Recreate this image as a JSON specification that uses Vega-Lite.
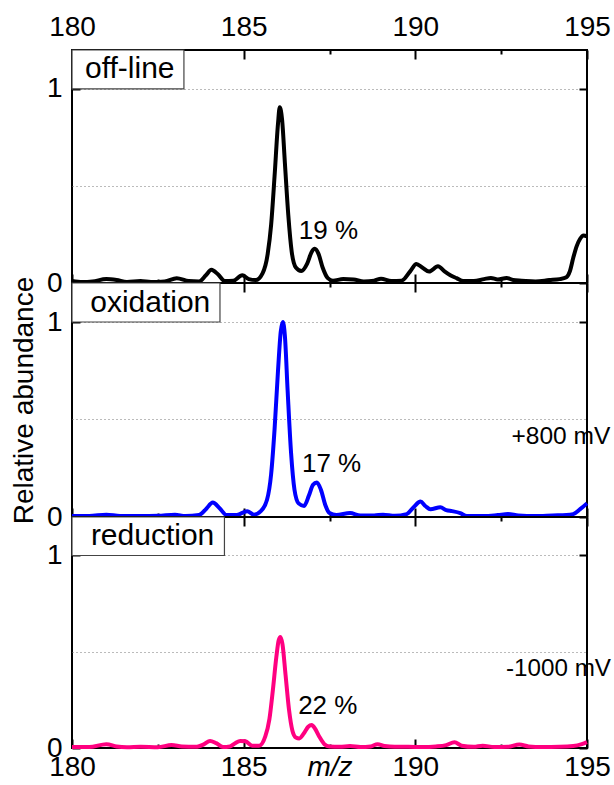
{
  "$schema": "https://vega.github.io/schema/vega-lite/v6.json",
  "padding": {"left": 8, "top": 7, "right": 0, "bottom": 0},
  "background": "white",
  "config": {
    "font": "Liberation Sans",
    "view": {"stroke": "black", "strokeWidth": 2},
    "axis": {"labelColor": "black", "labelFont": "Liberation Sans", "titleFont": "Liberation Sans", "titleColor": "black", "tickColor": "black", "tickWidth": 2, "labelOverlap": false, "labelFlush": false, "labelBound": false, "zindex": 1}
  },
  "datasets": {
    "c": [
      {"s":"off","x":180.0,"y":0.01},{"s":"off","x":180.3,"y":0.005},{"s":"off","x":180.6,"y":0.008},{"s":"off","x":181.0,"y":0.02},{"s":"off","x":181.3,"y":0.015},{"s":"off","x":181.6,"y":0.005},{"s":"off","x":182.0,"y":0.01},{"s":"off","x":182.3,"y":0.005},{"s":"off","x":182.7,"y":0.008},{"s":"off","x":183.05,"y":0.025},{"s":"off","x":183.4,"y":0.01},{"s":"off","x":183.7,"y":0.008},{"s":"off","x":183.9,"y":0.04},{"s":"off","x":184.06,"y":0.068},{"s":"off","x":184.25,"y":0.045},{"s":"off","x":184.45,"y":0.01},{"s":"off","x":184.7,"y":0.012},{"s":"off","x":184.96,"y":0.04},{"s":"off","x":185.15,"y":0.02},{"s":"off","x":185.35,"y":0.015},{"s":"off","x":185.55,"y":0.05},{"s":"off","x":185.7,"y":0.15},{"s":"off","x":185.8,"y":0.3},{"s":"off","x":185.9,"y":0.55},{"s":"off","x":186.0,"y":0.82},{"s":"off","x":186.05,"y":0.905},{"s":"off","x":186.12,"y":0.84},{"s":"off","x":186.2,"y":0.62},{"s":"off","x":186.3,"y":0.35},{"s":"off","x":186.4,"y":0.16},{"s":"off","x":186.52,"y":0.08},{"s":"off","x":186.68,"y":0.062},{"s":"off","x":186.85,"y":0.1},{"s":"off","x":186.98,"y":0.16},{"s":"off","x":187.07,"y":0.176},{"s":"off","x":187.18,"y":0.15},{"s":"off","x":187.3,"y":0.08},{"s":"off","x":187.45,"y":0.025},{"s":"off","x":187.6,"y":0.012},{"s":"off","x":187.9,"y":0.02},{"s":"off","x":188.2,"y":0.018},{"s":"off","x":188.5,"y":0.008},{"s":"off","x":188.8,"y":0.012},{"s":"off","x":189.0,"y":0.022},{"s":"off","x":189.3,"y":0.01},{"s":"off","x":189.6,"y":0.012},{"s":"off","x":189.85,"y":0.06},{"s":"off","x":190.03,"y":0.098},{"s":"off","x":190.2,"y":0.08},{"s":"off","x":190.4,"y":0.059},{"s":"off","x":190.66,"y":0.086},{"s":"off","x":190.85,"y":0.06},{"s":"off","x":191.02,"y":0.04},{"s":"off","x":191.2,"y":0.025},{"s":"off","x":191.4,"y":0.01},{"s":"off","x":191.7,"y":0.01},{"s":"off","x":192.0,"y":0.02},{"s":"off","x":192.2,"y":0.026},{"s":"off","x":192.4,"y":0.018},{"s":"off","x":192.66,"y":0.026},{"s":"off","x":192.85,"y":0.015},{"s":"off","x":193.1,"y":0.012},{"s":"off","x":193.5,"y":0.008},{"s":"off","x":193.9,"y":0.015},{"s":"off","x":194.2,"y":0.02},{"s":"off","x":194.4,"y":0.03},{"s":"off","x":194.5,"y":0.06},{"s":"off","x":194.6,"y":0.13},{"s":"off","x":194.7,"y":0.19},{"s":"off","x":194.8,"y":0.228},{"s":"off","x":194.9,"y":0.245},{"s":"off","x":195.0,"y":0.24},

      {"s":"ox","x":180.0,"y":0.005},{"s":"ox","x":180.5,"y":0.005},{"s":"ox","x":181.0,"y":0.012},{"s":"ox","x":181.4,"y":0.005},{"s":"ox","x":182.0,"y":0.005},{"s":"ox","x":182.5,"y":0.006},{"s":"ox","x":183.0,"y":0.012},{"s":"ox","x":183.3,"y":0.005},{"s":"ox","x":183.7,"y":0.01},{"s":"ox","x":183.9,"y":0.04},{"s":"ox","x":184.1,"y":0.074},{"s":"ox","x":184.3,"y":0.045},{"s":"ox","x":184.5,"y":0.01},{"s":"ox","x":184.8,"y":0.01},{"s":"ox","x":185.1,"y":0.03},{"s":"ox","x":185.3,"y":0.012},{"s":"ox","x":185.5,"y":0.03},{"s":"ox","x":185.68,"y":0.088},{"s":"ox","x":185.8,"y":0.22},{"s":"ox","x":185.9,"y":0.45},{"s":"ox","x":186.0,"y":0.75},{"s":"ox","x":186.08,"y":0.95},{"s":"ox","x":186.14,"y":1.0},{"s":"ox","x":186.2,"y":0.93},{"s":"ox","x":186.28,"y":0.65},{"s":"ox","x":186.38,"y":0.33},{"s":"ox","x":186.48,"y":0.14},{"s":"ox","x":186.6,"y":0.07},{"s":"ox","x":186.76,"y":0.057},{"s":"ox","x":186.9,"y":0.11},{"s":"ox","x":187.02,"y":0.165},{"s":"ox","x":187.13,"y":0.177},{"s":"ox","x":187.25,"y":0.14},{"s":"ox","x":187.38,"y":0.06},{"s":"ox","x":187.5,"y":0.02},{"s":"ox","x":187.7,"y":0.01},{"s":"ox","x":188.1,"y":0.02},{"s":"ox","x":188.4,"y":0.008},{"s":"ox","x":188.8,"y":0.008},{"s":"ox","x":189.06,"y":0.012},{"s":"ox","x":189.4,"y":0.006},{"s":"ox","x":189.75,"y":0.015},{"s":"ox","x":189.95,"y":0.05},{"s":"ox","x":190.15,"y":0.079},{"s":"ox","x":190.3,"y":0.055},{"s":"ox","x":190.44,"y":0.04},{"s":"ox","x":190.73,"y":0.05},{"s":"ox","x":190.9,"y":0.035},{"s":"ox","x":191.07,"y":0.03},{"s":"ox","x":191.31,"y":0.02},{"s":"ox","x":191.5,"y":0.005},{"s":"ox","x":192.0,"y":0.005},{"s":"ox","x":192.4,"y":0.01},{"s":"ox","x":192.7,"y":0.015},{"s":"ox","x":193.0,"y":0.008},{"s":"ox","x":193.5,"y":0.005},{"s":"ox","x":194.0,"y":0.008},{"s":"ox","x":194.4,"y":0.01},{"s":"ox","x":194.6,"y":0.015},{"s":"ox","x":194.8,"y":0.04},{"s":"ox","x":195.0,"y":0.07},

      {"s":"red","x":180.0,"y":0.005},{"s":"red","x":180.5,"y":0.005},{"s":"red","x":181.0,"y":0.02},{"s":"red","x":181.3,"y":0.008},{"s":"red","x":181.6,"y":0.004},{"s":"red","x":182.0,"y":0.006},{"s":"red","x":182.5,"y":0.004},{"s":"red","x":182.9,"y":0.015},{"s":"red","x":183.2,"y":0.008},{"s":"red","x":183.6,"y":0.006},{"s":"red","x":183.85,"y":0.02},{"s":"red","x":184.02,"y":0.037},{"s":"red","x":184.2,"y":0.025},{"s":"red","x":184.4,"y":0.005},{"s":"red","x":184.6,"y":0.008},{"s":"red","x":184.75,"y":0.025},{"s":"red","x":184.9,"y":0.037},{"s":"red","x":185.05,"y":0.035},{"s":"red","x":185.25,"y":0.012},{"s":"red","x":185.45,"y":0.012},{"s":"red","x":185.63,"y":0.06},{"s":"red","x":185.75,"y":0.15},{"s":"red","x":185.85,"y":0.3},{"s":"red","x":185.95,"y":0.47},{"s":"red","x":186.02,"y":0.56},{"s":"red","x":186.07,"y":0.577},{"s":"red","x":186.13,"y":0.54},{"s":"red","x":186.22,"y":0.38},{"s":"red","x":186.32,"y":0.2},{"s":"red","x":186.42,"y":0.09},{"s":"red","x":186.52,"y":0.055},{"s":"red","x":186.62,"y":0.05},{"s":"red","x":186.75,"y":0.075},{"s":"red","x":186.88,"y":0.11},{"s":"red","x":186.98,"y":0.119},{"s":"red","x":187.08,"y":0.1},{"s":"red","x":187.2,"y":0.06},{"s":"red","x":187.35,"y":0.02},{"s":"red","x":187.5,"y":0.008},{"s":"red","x":187.8,"y":0.006},{"s":"red","x":188.1,"y":0.01},{"s":"red","x":188.4,"y":0.005},{"s":"red","x":188.7,"y":0.008},{"s":"red","x":188.9,"y":0.02},{"s":"red","x":189.1,"y":0.01},{"s":"red","x":189.4,"y":0.006},{"s":"red","x":189.8,"y":0.006},{"s":"red","x":190.2,"y":0.005},{"s":"red","x":190.6,"y":0.008},{"s":"red","x":190.9,"y":0.015},{"s":"red","x":191.14,"y":0.03},{"s":"red","x":191.35,"y":0.012},{"s":"red","x":191.7,"y":0.006},{"s":"red","x":191.96,"y":0.012},{"s":"red","x":192.3,"y":0.005},{"s":"red","x":192.7,"y":0.006},{"s":"red","x":193.03,"y":0.018},{"s":"red","x":193.3,"y":0.008},{"s":"red","x":193.7,"y":0.005},{"s":"red","x":194.2,"y":0.006},{"s":"red","x":194.6,"y":0.01},{"s":"red","x":194.85,"y":0.02},{"s":"red","x":195.0,"y":0.03}
    ],
    "b": [
      {"s":"off","x1":180,"x2":183.26,"y1":1.0,"y2":1.2,"tx":180.38,"ty":1.1,"label":"off-line"},
      {"s":"ox","x1":180,"x2":184.31,"y1":1.0,"y2":1.2,"tx":180.53,"ty":1.1,"label":"oxidation"},
      {"s":"red","x1":180,"x2":184.44,"y1":1.0,"y2":1.2,"tx":180.55,"ty":1.1,"label":"reduction"}
    ],
    "a": [
      {"s":"off","x":187.47,"y":0.27,"t":"19 %","f":26},
      {"s":"ox","x":187.56,"y":0.27,"t":"17 %","f":26},
      {"s":"ox","x":194.24,"y":0.41,"t":"+800 mV","f":24.5},
      {"s":"red","x":187.45,"y":0.22,"t":"22 %","f":26},
      {"s":"red","x":194.17,"y":0.41,"t":"-1000 mV","f":24.2}
    ]
  },
  "vconcat": [
    {
      "width": 515, "height": 233,
      "resolve": {"axis": {"x": "independent", "y": "independent"}},
      "layer": [
        {
          "data": {"name": "c"},
          "transform": [{"filter": "datum.s == 'off'"}],
          "mark": {"type": "line", "color": "black", "strokeWidth": 4, "interpolate": "monotone"},
          "encoding": {
            "x": {"field": "x", "type": "quantitative", "scale": {"domain": [180, 195], "nice": false, "zero": false},
              "axis": {"orient": "bottom", "values": [180,182.5,185,187.5,190,192.5,195], "labels": false, "title": null, "domain": false, "grid": false, "tickSize": {"condition": {"test": "datum.value % 5 === 0", "value": -9}, "value": -4}}},
            "y": {"field": "y", "type": "quantitative", "scale": {"domain": [0, 1.2], "nice": false},
              "axis": {"orient": "left", "values": [0, 0.5, 1], "format": "~g", "labelExpr": "datum.value == 0.5 ? '' : datum.label", "labelFontSize": 28, "labelPadding": 18, "tickSize": {"condition": {"test": "datum.value == 0.5", "value": 0}, "value": -8}, "grid": true, "gridDash": [1, 3], "gridColor": "#777", "gridWidth": 1, "gridOpacity": {"condition": {"test": "datum.value == 0", "value": 0}, "value": 1}, "domain": false, "title": null}}
          }
        },
        {
          "data": {"name": "b"},
          "transform": [{"filter": "datum.s == 'off'"}],
          "mark": {"type": "rect", "fill": "white", "stroke": "#444", "strokeWidth": 1.2},
          "encoding": {
            "x": {"field": "x1", "type": "quantitative", "axis": {"orient": "top", "values": [180,182.5,185,187.5,190,192.5,195], "labelExpr": "datum.value % 5 === 0 ? datum.label : ''", "labelFontSize": 28, "labelPadding": 18, "title": null, "domain": false, "grid": false, "tickSize": {"condition": {"test": "datum.value % 5 === 0", "value": -9}, "value": -4}}},
            "x2": {"field": "x2"},
            "y": {"field": "y1", "type": "quantitative", "axis": {"orient": "right", "values": [0, 1], "labels": false, "title": null, "domain": false, "grid": false, "tickSize": -8}},
            "y2": {"field": "y2"}
          }
        },
        {
          "data": {"name": "b"},
          "transform": [{"filter": "datum.s == 'off'"}],
          "mark": {"type": "text", "align": "left", "baseline": "middle", "fontSize": 30, "color": "black"},
          "encoding": {
            "x": {"field": "tx", "type": "quantitative", "axis": null},
            "y": {"field": "ty", "type": "quantitative", "axis": null},
            "text": {"field": "label"}
          }
        },
        {
          "data": {"name": "a"},
          "transform": [{"filter": "datum.s == 'off'"}],
          "mark": {"type": "text", "align": "center", "baseline": "middle", "color": "black"},
          "encoding": {
            "x": {"field": "x", "type": "quantitative", "axis": null},
            "y": {"field": "y", "type": "quantitative", "axis": null},
            "text": {"field": "t"},
            "size": {"field": "f", "type": "quantitative", "scale": null, "legend": null}
          }
        }
      ]
    },
    {
      "width": 515, "height": 234,
      "resolve": {"axis": {"x": "independent", "y": "independent"}},
      "layer": [
        {
          "data": {"name": "c"},
          "transform": [{"filter": "datum.s == 'ox'"}],
          "mark": {"type": "line", "color": "#0000ff", "strokeWidth": 4, "interpolate": "monotone"},
          "encoding": {
            "x": {"field": "x", "type": "quantitative", "scale": {"domain": [180, 195], "nice": false, "zero": false},
              "axis": {"orient": "bottom", "values": [180,182.5,185,187.5,190,192.5,195], "labels": false, "title": null, "domain": false, "grid": false, "tickSize": {"condition": {"test": "datum.value % 5 === 0", "value": -9}, "value": -4}}},
            "y": {"field": "y", "type": "quantitative", "scale": {"domain": [0, 1.2], "nice": false},
              "axis": {"orient": "left", "values": [0, 0.5, 1], "format": "~g", "labelExpr": "datum.value == 0.5 ? '' : datum.label", "labelFontSize": 28, "labelPadding": 18, "tickSize": {"condition": {"test": "datum.value == 0.5", "value": 0}, "value": -8}, "grid": true, "gridDash": [1, 3], "gridColor": "#777", "gridWidth": 1, "gridOpacity": {"condition": {"test": "datum.value == 0", "value": 0}, "value": 1}, "domain": false,
                "title": "Relative abundance", "titleFontSize": 28, "titleFontWeight": "normal", "titleX": -48, "titleY": 117, "titleAngle": -90, "titleAlign": "center", "titleBaseline": "middle"}}
          }
        },
        {
          "data": {"name": "b"},
          "transform": [{"filter": "datum.s == 'ox'"}],
          "mark": {"type": "rect", "fill": "white", "stroke": "#444", "strokeWidth": 1.2},
          "encoding": {
            "x": {"field": "x1", "type": "quantitative", "axis": {"orient": "top", "values": [180,182.5,185,187.5,190,192.5,195], "labels": false, "title": null, "domain": false, "grid": false, "tickSize": {"condition": {"test": "datum.value % 5 === 0", "value": -9}, "value": -4}}},
            "x2": {"field": "x2"},
            "y": {"field": "y1", "type": "quantitative", "axis": {"orient": "right", "values": [0, 1], "labels": false, "title": null, "domain": false, "grid": false, "tickSize": -8}},
            "y2": {"field": "y2"}
          }
        },
        {
          "data": {"name": "b"},
          "transform": [{"filter": "datum.s == 'ox'"}],
          "mark": {"type": "text", "align": "left", "baseline": "middle", "fontSize": 30, "color": "black"},
          "encoding": {
            "x": {"field": "tx", "type": "quantitative", "axis": null},
            "y": {"field": "ty", "type": "quantitative", "axis": null},
            "text": {"field": "label"}
          }
        },
        {
          "data": {"name": "a"},
          "transform": [{"filter": "datum.s == 'ox'"}],
          "mark": {"type": "text", "align": "center", "baseline": "middle", "color": "black"},
          "encoding": {
            "x": {"field": "x", "type": "quantitative", "axis": null},
            "y": {"field": "y", "type": "quantitative", "axis": null},
            "text": {"field": "t"},
            "size": {"field": "f", "type": "quantitative", "scale": null, "legend": null}
          }
        }
      ]
    },
    {
      "width": 515, "height": 231,
      "resolve": {"axis": {"x": "independent", "y": "independent"}},
      "layer": [
        {
          "data": {"name": "c"},
          "transform": [{"filter": "datum.s == 'red'"}],
          "mark": {"type": "line", "color": "#ff0080", "strokeWidth": 4, "interpolate": "monotone"},
          "encoding": {
            "x": {"field": "x", "type": "quantitative", "scale": {"domain": [180, 195], "nice": false, "zero": false},
              "axis": {"orient": "bottom", "values": [180,182.5,185,187.5,190,192.5,195], "labelExpr": "datum.value % 5 === 0 ? datum.label : ''", "labelFontSize": 28, "labelPadding": 14, "domain": false, "grid": false, "tickSize": {"condition": {"test": "datum.value % 5 === 0", "value": -9}, "value": -4},
                "title": "m/z", "titleFontSize": 28, "titleFontStyle": "italic", "titleFontWeight": "normal", "titleY": 27, "titleBaseline": "alphabetic"}},
            "y": {"field": "y", "type": "quantitative", "scale": {"domain": [0, 1.2], "nice": false},
              "axis": {"orient": "left", "values": [0, 0.5, 1], "format": "~g", "labelExpr": "datum.value == 0.5 ? '' : datum.label", "labelFontSize": 28, "labelPadding": 18, "tickSize": {"condition": {"test": "datum.value == 0.5", "value": 0}, "value": -8}, "grid": true, "gridDash": [1, 3], "gridColor": "#777", "gridWidth": 1, "gridOpacity": {"condition": {"test": "datum.value == 0", "value": 0}, "value": 1}, "domain": false, "title": null}}
          }
        },
        {
          "data": {"name": "b"},
          "transform": [{"filter": "datum.s == 'red'"}],
          "mark": {"type": "rect", "fill": "white", "stroke": "#444", "strokeWidth": 1.2},
          "encoding": {
            "x": {"field": "x1", "type": "quantitative", "axis": {"orient": "top", "values": [180,182.5,185,187.5,190,192.5,195], "labels": false, "title": null, "domain": false, "grid": false, "tickSize": {"condition": {"test": "datum.value % 5 === 0", "value": -9}, "value": -4}}},
            "x2": {"field": "x2"},
            "y": {"field": "y1", "type": "quantitative", "axis": {"orient": "right", "values": [0, 1], "labels": false, "title": null, "domain": false, "grid": false, "tickSize": -8}},
            "y2": {"field": "y2"}
          }
        },
        {
          "data": {"name": "b"},
          "transform": [{"filter": "datum.s == 'red'"}],
          "mark": {"type": "text", "align": "left", "baseline": "middle", "fontSize": 30, "color": "black"},
          "encoding": {
            "x": {"field": "tx", "type": "quantitative", "axis": null},
            "y": {"field": "ty", "type": "quantitative", "axis": null},
            "text": {"field": "label"}
          }
        },
        {
          "data": {"name": "a"},
          "transform": [{"filter": "datum.s == 'red'"}],
          "mark": {"type": "text", "align": "center", "baseline": "middle", "color": "black"},
          "encoding": {
            "x": {"field": "x", "type": "quantitative", "axis": null},
            "y": {"field": "y", "type": "quantitative", "axis": null},
            "text": {"field": "t"},
            "size": {"field": "f", "type": "quantitative", "scale": null, "legend": null}
          }
        }
      ]
    }
  ],
  "spacing": 0,
  "bounds": "flush"
}
